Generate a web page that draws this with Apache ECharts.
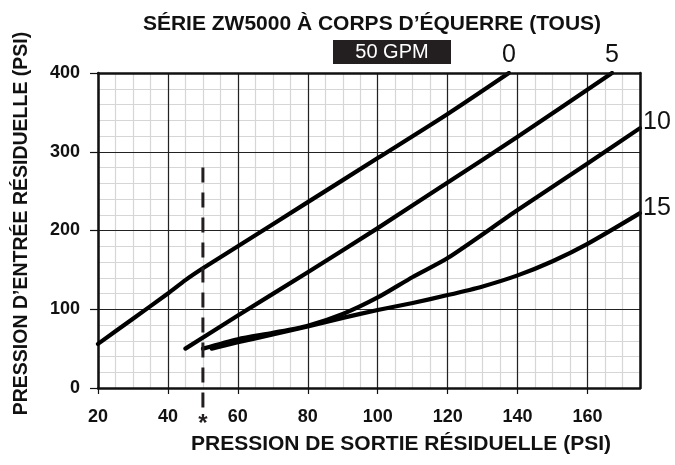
<!DOCTYPE html>
<html lang="fr">
<head>
  <meta charset="UTF-8">
  <title>ZW5000</title>
  <style>
    html, body { margin: 0; padding: 0; background: #fff; }
    #chart { width: 675px; height: 465px; }
  </style>
</head>
<body>
  <div id="chart"></div>
  <script src="https://cdn.jsdelivr.net/npm/echarts@6/dist/echarts.min.js"></script>
  <script>
    // valeurs (psi)
    const xTickLabels = [20, 40, 60, 80, 100, 120, 140, 160];
    const yTickLabels = [0, 100, 200, 300, 400];

    const curve0X = [20, 30, 40, 45, 50, 60, 80, 100, 120, 137.5];
    const curve0Y = [56, 88, 120, 137, 152, 180, 236, 292, 348, 400];

    const curve5X = [45, 60, 80, 100, 120, 140, 167];
    const curve5Y = [50, 92, 147, 203, 261, 319, 400];

    const curve10X = [50, 60, 70, 80, 90, 100, 110, 120, 140, 160, 175];
    const curve10Y = [50, 62, 70, 79, 94, 115, 141, 165, 226, 285, 330];

    const curve15X = [52.5, 60, 70, 80, 90, 100, 110, 120, 130, 140, 150, 160, 175];
    const curve15Y = [50, 58, 68, 78, 89, 99, 108, 118, 129, 143, 161, 183, 222];

    const curveLabels = ['0', '5', '10', '15'];

    // ligne pointillée (*) à 50 psi
    const markX = [50, 50];
    const markY = [280, -33];

    const font = "'Liberation Sans', Arial, Helvetica, sans-serif";
    const ink = '#111';

    function pairs(xs, ys) {
      return xs.map((x, i) => [x, ys[i]]);
    }

    const curves = [
      pairs(curve0X, curve0Y),
      pairs(curve5X, curve5Y),
      pairs(curve10X, curve10Y),
      pairs(curve15X, curve15Y)
    ];

    const chart = echarts.init(document.getElementById('chart'));

    const borderAxis = {
      type: 'value',
      axisLabel: { show: false },
      axisTick: { show: false },
      splitLine: { show: false },
      axisLine: { show: true, lineStyle: { color: ink, width: 2.5 } },
      z: 3
    };

    const option = {
      animation: false,
      backgroundColor: '#fff',
      title: {
        text: 'SÉRIE ZW5000 À CORPS D’ÉQUERRE (TOUS)',
        left: 367,
        top: 9,
        textAlign: 'center',
        textStyle: { fontFamily: font, fontSize: 21, fontWeight: 'bold', color: ink }
      },
      grid: { left: 98, right: 35, top: 73, bottom: 77 },
      xAxis: [
        {
          // grille fine, tous les 5 psi
          type: 'value', min: 20, max: 175, interval: 5, position: 'bottom',
          axisLabel: { show: false }, axisTick: { show: false }, axisLine: { show: false },
          splitLine: { show: true, lineStyle: { color: '#d6d6d6', width: 1.2 } },
          z: 0
        },
        {
          type: 'value', min: 20, max: 175, interval: 20, position: 'bottom',
          name: 'PRESSION DE SORTIE RÉSIDUELLE (PSI)',
          nameLocation: 'middle', nameGap: 46,
          nameTextStyle: { fontFamily: font, fontSize: 21, fontWeight: 'bold', color: ink, padding: [0, 0, 0, 64] },
          axisLine: { show: true, lineStyle: { color: ink, width: 2.5 } },
          axisTick: { show: true, length: 6, lineStyle: { color: ink, width: 1.2 } },
          axisLabel: {
            margin: 20, showMaxLabel: false,
            fontFamily: font, fontSize: 18, fontWeight: 'bold', color: ink,
            formatter: v => (xTickLabels.includes(v) ? String(v) : '')
          },
          splitLine: { show: true, lineStyle: { color: '#222', width: 1.2 } },
          z: 1
        },
        Object.assign({ min: 20, max: 175, position: 'top' }, borderAxis)
      ],
      yAxis: [
        {
          type: 'value', min: 0, max: 400, interval: 100,
          name: 'PRESSION D’ENTRÉE RÉSIDUELLE (PSI)',
          nameLocation: 'middle', nameGap: 66,
          nameTextStyle: { fontFamily: font, fontSize: 19.5, fontWeight: 'bold', color: ink, padding: [0, 0, 0, 14] },
          axisLine: { show: true, lineStyle: { color: ink, width: 2.5 } },
          axisTick: { show: true, length: 8, lineStyle: { color: ink, width: 1.2 } },
          axisLabel: {
            margin: 18,
            fontFamily: font, fontSize: 18, fontWeight: 'bold', color: ink,
            formatter: v => (yTickLabels.includes(v) ? String(v) : '')
          },
          splitLine: { show: true, lineStyle: { color: '#222', width: 1.2 } },
          minorTick: { show: false, splitNumber: 5 },
          minorSplitLine: { show: true, lineStyle: { color: '#d6d6d6', width: 1.2 } },
          z: 1
        },
        Object.assign({ min: 0, max: 400, position: 'right' }, borderAxis)
      ],
      series: curves.map((data, i) => ({
        name: curveLabels[i],
        type: 'line',
        xAxisIndex: 1,
        yAxisIndex: 0,
        data: data,
        smooth: 0.25,
        showSymbol: false,
        lineStyle: { color: '#000', width: 4.2, cap: 'round', join: 'round' },
        z: 2
      })).concat([{
        name: 'repere',
        type: 'line',
        xAxisIndex: 1,
        yAxisIndex: 0,
        data: pairs(markX, markY),
        clip: false,
        showSymbol: false,
        lineStyle: { color: '#231f20', width: 3, type: [15, 10] },
        z: 2
      }])
    };

    chart.setOption(option);

    // étiquettes des courbes et encadré « 50 GPM »
    const px = p => chart.convertToPixel({ xAxisIndex: 1, yAxisIndex: 0 }, p);
    const end = c => c[c.length - 1];
    const labelStyle = { fontFamily: font, fontSize: 25, fontWeight: 'normal', fill: ink };

    const p0 = px(end(curves[0]));
    const p5 = px(end(curves[1]));
    const p10 = px(end(curves[2]));
    const p15 = px(end(curves[3]));
    const star = px([markX[1], markY[1]]);

    chart.setOption({
      graphic: [
        { type: 'rect', shape: { x: 333, y: 40, width: 118, height: 24 }, style: { fill: '#231f20' } },
        { type: 'text', x: 392, y: 52, style: { text: '50 GPM', fontFamily: font, fontSize: 20, fill: '#fff', align: 'center', verticalAlign: 'middle' } },
        { type: 'text', x: p0[0], y: p0[1] - 18, style: Object.assign({ text: curveLabels[0], align: 'center', verticalAlign: 'middle' }, labelStyle) },
        { type: 'text', x: p5[0], y: p5[1] - 18, style: Object.assign({ text: curveLabels[1], align: 'center', verticalAlign: 'middle' }, labelStyle) },
        { type: 'text', x: p10[0] + 3, y: p10[1] - 6, style: Object.assign({ text: curveLabels[2], align: 'left', verticalAlign: 'middle' }, labelStyle) },
        { type: 'text', x: p15[0] + 3, y: p15[1] - 5, style: Object.assign({ text: curveLabels[3], align: 'left', verticalAlign: 'middle' }, labelStyle) },
        { type: 'text', x: star[0], y: star[1] + 10, style: { text: '*', fontFamily: font, fontSize: 24, fontWeight: 'bold', fill: '#231f20', align: 'center', verticalAlign: 'middle' } }
      ]
    });
  </script>
</body>
</html>
